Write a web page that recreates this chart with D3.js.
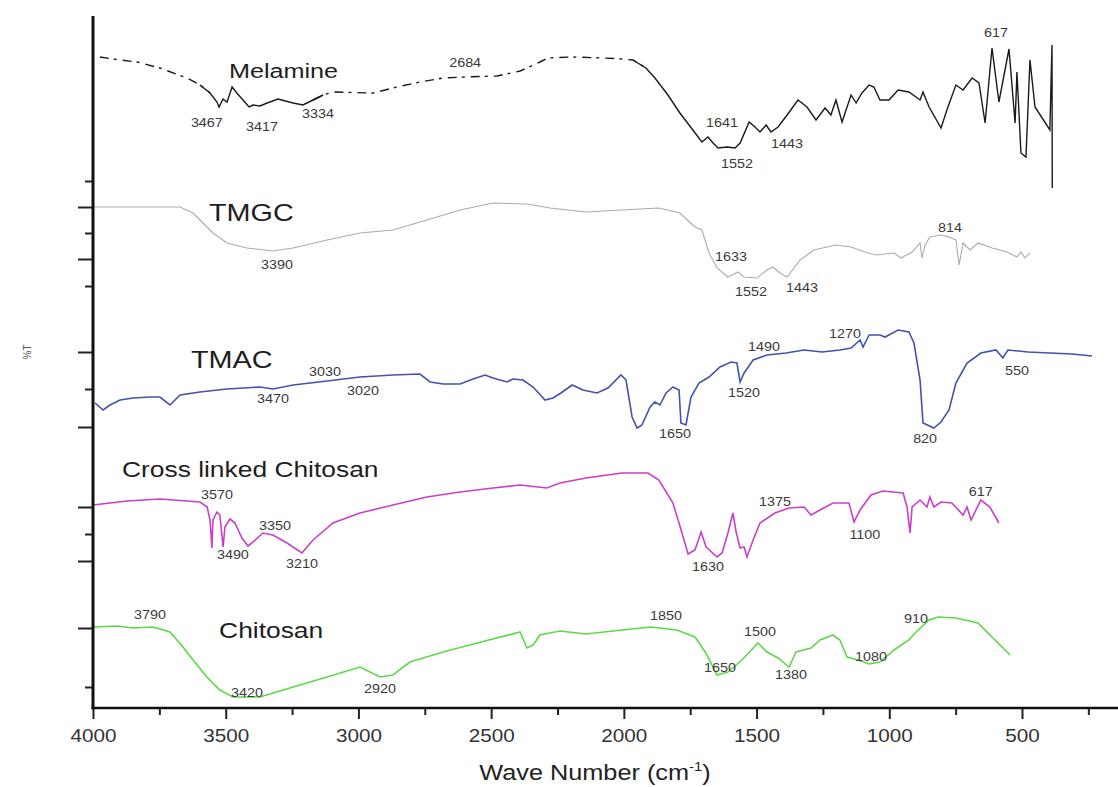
<!DOCTYPE html>
<html>
<head>
<meta charset="utf-8">
<title>FTIR spectra</title>
<script src="https://d3js.org/d3.v7.min.js"></script>
<style>
  body { margin: 0; background: #fff; }
  text { font-family: "Liberation Sans", Arial, sans-serif; }
</style>
</head>
<body>
<svg width="1118" height="787"></svg>
<script>
// ---- data: [wave number (cm-1), %T (stacked, arbitrary offset)] ----
var melamine = [[3974,162.75],[3925,162.25],[3834,161.5],[3748,160],[3646,157.5],[3597,155.75],[3559,153.75],[3533,151.5],[3525,150.25],[3510,152.25],[3495,151.5],[3476,155.25],[3458,153.75],[3435,152],[3412,150.25],[3397,150.75],[3371,150.5],[3344,151.25],[3303,152.25],[3246,151.25],[3209,150.75],[3171,152],[3133,153.25],[3096,154],[2945,153.75],[2855,155.25],[2768,156.5],[2681,157.5],[2598,157.75],[2478,158],[2391,159.25],[2316,161.5],[2286,162.5],[2195,162.75],[2075,162.5],[2007,162.25],[1966,162],[1917,160],[1883,157.5],[1834,153.25],[1789,148.75],[1740,144.5],[1706,141.5],[1683,142.75],[1664,141.25],[1645,140],[1611,140.25],[1581,140],[1562,141.25],[1528,146.5],[1506,145.25],[1487,144],[1464,145.75],[1446,144],[1419,145.25],[1385,148.25],[1344,152],[1310,150.25],[1276,147],[1242,150],[1220,148.25],[1201,152],[1178,146.5],[1144,153.25],[1125,151.25],[1103,153.75],[1076,155.75],[1058,155.25],[1035,152],[1001,152],[967,154.5],[926,154],[884,152],[873,154],[850,150.25],[805,145],[783,149.5],[749,155.75],[722,154.5],[688,157.5],[662,156.25],[639,146.25],[613,165],[587,151.5],[549,164.75],[526,146.25],[519,159],[504,138.75],[485,137.75],[470,162],[451,150.25],[395,144.5],[387,165.75],[386,130]];
// wave number ranges where the melamine trace is broken/dashed
var melamineDashed = [[4000,3597],[3133,1966]];

var tmgc = [[4000,125.25],[3672,125.25],[3623,123.75],[3586,121.25],[3548,118.75],[3495,116.25],[3420,115],[3322,114.25],[3246,115],[3118,117],[2994,118.75],[2870,119.5],[2742,122],[2617,124.5],[2493,126.25],[2365,126],[2278,125],[2143,124],[2007,124.5],[1868,125],[1789,123.75],[1732,120.25],[1706,119.5],[1679,113.75],[1649,110],[1608,107.75],[1570,109],[1547,107.75],[1498,107.5],[1461,109.5],[1438,110.25],[1412,108.75],[1385,107.75],[1336,112],[1284,114.5],[1201,115.75],[1144,115.25],[1092,114],[1050,113.25],[982,113.75],[956,112.5],[914,114],[884,116.25],[877,112.5],[865,115.75],[847,117.75],[805,118.25],[775,117.75],[749,117],[737,110.75],[722,116.25],[696,114.5],[666,116.25],[613,115],[557,114],[519,112.75],[504,114],[489,112.5],[470,113.75]];

var tmac = [[3992,76.25],[3962,74.5],[3936,75.75],[3898,77],[3849,77.5],[3785,77.75],[3748,77.75],[3710,75.75],[3672,78.25],[3597,79],[3495,79.75],[3371,80.25],[3322,79.75],[3246,80.75],[3118,81.75],[2994,82.75],[2870,83.25],[2768,83.5],[2730,81.5],[2681,81],[2617,81],[2568,82.25],[2523,83.25],[2493,82.5],[2440,81.5],[2418,82.25],[2380,82],[2342,80.25],[2297,77],[2267,77.5],[2237,78.75],[2195,80.75],[2154,79.5],[2101,78.75],[2060,80],[2011,83.25],[1992,82],[1969,72.75],[1950,70],[1932,70.75],[1901,75.25],[1883,76.5],[1864,75.75],[1841,78.75],[1815,80.25],[1792,79.5],[1785,71.25],[1766,70.75],[1747,77.75],[1717,81.25],[1679,82.75],[1638,85.25],[1596,86.5],[1574,86.25],[1562,81.5],[1547,83.75],[1513,87],[1461,88.25],[1389,88.75],[1321,89.5],[1253,89],[1186,89.5],[1144,90],[1110,92],[1099,90.25],[1076,93.25],[1035,93.25],[1016,92.75],[967,94.5],[926,94],[907,91.25],[884,82],[873,71.25],[832,70],[805,71.5],[775,74.5],[749,81.25],[707,86.25],[655,88.75],[598,89.5],[572,87.5],[553,89.5],[477,89],[395,88.75],[312,88.5],[236,88]];

var crossChitosan = [[4000,50.75],[3872,51.75],[3748,52.25],[3597,51.5],[3570,50.25],[3559,47],[3552,40],[3548,47],[3533,49],[3522,48.25],[3510,40.25],[3503,45.25],[3484,47.25],[3465,46.25],[3439,42.5],[3416,40.5],[3397,41.5],[3360,43.75],[3322,43.25],[3269,41.25],[3213,38.75],[3171,42],[3096,46.25],[2994,48.75],[2870,50.75],[2742,52.75],[2617,54],[2493,55],[2391,55.75],[2290,55],[2241,56.25],[2143,57.5],[2007,58.75],[1909,58.75],[1868,57],[1815,51.25],[1781,43.75],[1758,38.5],[1732,39.5],[1709,44],[1690,40.25],[1649,37.75],[1630,38.75],[1608,43.75],[1589,48.75],[1577,44],[1562,40],[1547,40.25],[1536,37.75],[1513,42],[1487,46.25],[1431,48.75],[1378,50],[1321,50.25],[1295,48.25],[1261,49.5],[1212,51.25],[1152,51.25],[1133,46.5],[1110,49.5],[1069,53.25],[1024,54.25],[948,53.75],[933,50.25],[922,43.75],[914,50.25],[884,52],[858,50.25],[847,52.75],[832,50.25],[805,51.5],[764,51.25],[722,48.25],[707,50.25],[692,47],[655,52],[621,50.25],[587,46.25]];

var chitosan = [[4000,20.25],[3910,20.5],[3849,20],[3774,20.25],[3710,19],[3661,15.25],[3623,12],[3571,7.75],[3522,4.5],[3473,2.75],[3371,2.75],[3246,5.25],[3118,7.75],[2994,10.25],[2919,7.75],[2870,8.25],[2806,11.5],[2681,14],[2553,16.25],[2391,19],[2365,15],[2342,15.75],[2316,18.25],[2241,19.25],[2143,18.5],[2007,19.5],[1898,20.25],[1800,19.5],[1732,17.75],[1691,13.75],[1649,8.25],[1608,9],[1555,12],[1495,16.25],[1461,14],[1419,12.5],[1378,10.25],[1351,14],[1295,15],[1261,17],[1212,18.25],[1186,17],[1159,12.75],[1118,12],[1076,11],[1035,11.5],[982,14.5],[926,17],[899,19],[850,22],[816,22.75],[749,22.5],[666,21.25],[613,17.75],[545,13.25]];

// ---- annotations ----
// series names: [text, left wave number, %T, font size]
var names = [["Melamine",3488,159.25,21],["TMGC",3563,123.75,24],["TMAC",3631,87,24],["Cross linked Chitosan",3891,59.75,22],["Chitosan",3525,19.5,22]];
// peak labels: [text, wave number, %T]
var peakLabels = [
  ["3467",3571,146.25],["3417",3363,145.25],["3334",3152,148.5],["2684",2598,161.25],["1641",1630,146.25],["1552",1574,136],["1443",1385,141],["617",598,168.75],
  ["3390",3307,110.75],["1633",1596,112.75],["1552",1521,104],["1443",1329,105],["814",771,120],
  ["3030",3126,84],["3470",3322,77.25],["3020",2983,79.25],["1490",1472,90.25],["1270",1167,93.5],["1520",1547,78.75],["1650",1807,68.5],["820",865,67.25],["550",519,84.25],
  ["3570",3533,53.25],["3490",3473,38.25],["3350",3314,45.5],["3210",3213,36],["1375",1431,51.5],["1630",1683,35.25],["1100",1092,43.25],["617",655,54],
  ["3790",3785,23.25],["3420",3420,3.75],["2920",2919,4.75],["1850",1841,23],["1650",1638,10],["1500",1487,19],["1380",1370,8.25],["1080",1069,12.75],["910",899,22.25]
];

// ---- axes ticks ----
var xMajor = [4000,3500,3000,2500,2000,1500,1000,500];
var xMinor = [3750,3250,2750,2250,1750,1250,750,250];
var yMajor = [125.25,112.25,89,70.25,50.25,36.75,20];
var yMinor = [131.75,118.75,105.5,79.75,43.5,5.25];

var svg = d3.select("svg");

var x = d3.scaleLinear().domain([4000, 500]).range([93, 1022]);
var y = d3.scaleLinear().domain([0, 173]).range([708, 16]);

var line = d3.line()
    .x(function(d) { return x(d[0]); })
    .y(function(d) { return y(d[1]); });

function inRanges(w, ranges) {
  return ranges.some(function(r) { return w <= r[0] && w >= r[1]; });
}

// split melamine into dashed / solid runs
function runs(data, ranges) {
  var out = [], cur = null;
  data.forEach(function(d, i) {
    var dash = inRanges(d[0], ranges);
    if (cur === null || dash !== cur.dash) {
      if (cur !== null) { cur.pts.push(d); out.push(cur); }
      cur = { dash: dash, pts: i > 0 ? [data[i - 1], d] : [d] };
    } else {
      cur.pts.push(d);
    }
  });
  out.push(cur);
  return out;
}

runs(melamine, melamineDashed).forEach(function(r) {
  svg.append("path")
      .datum(r.pts)
      .attr("fill", "none")
      .attr("stroke", "#1a1a1a")
      .attr("stroke-width", 1.4)
      .attr("stroke-dasharray", r.dash ? "9,5,3,6" : null)
      .attr("d", line);
});

svg.append("path").datum(tmgc)
    .attr("fill", "none").attr("stroke", "#ababab").attr("stroke-width", 1.1)
    .attr("d", line);

svg.append("path").datum(tmac)
    .attr("fill", "none").attr("stroke", "#4352ad").attr("stroke-width", 1.6)
    .attr("d", line);

svg.append("path").datum(crossChitosan)
    .attr("fill", "none").attr("stroke", "#c93fc9").attr("stroke-width", 1.6)
    .attr("d", line);

svg.append("path").datum(chitosan)
    .attr("fill", "none").attr("stroke", "#5fd64c").attr("stroke-width", 1.6)
    .attr("d", line);

// series names (the figure's lettering is slightly wide)
svg.selectAll(".name")
  .data(names)
  .enter().append("text")
    .attr("class", "name")
    .attr("transform", function(d) { return "translate(" + x(d[1]) + "," + y(d[2]) + ") scale(1.2,1)"; })
    .attr("dominant-baseline", "central")
    .attr("font-size", function(d) { return d[3]; })
    .attr("fill", "#1e1e1e")
    .text(function(d) { return d[0]; });

// peak labels
svg.selectAll(".peak")
  .data(peakLabels)
  .enter().append("text")
    .attr("class", "peak")
    .attr("transform", function(d) { return "translate(" + x(d[1]) + "," + y(d[2]) + ") scale(1.15,1)"; })
    .attr("text-anchor", "middle")
    .attr("dominant-baseline", "central")
    .attr("font-size", 12.5)
    .attr("fill", "#3a3a3a")
    .text(function(d) { return d[0]; });

// x axis
var gx = svg.append("g").attr("transform", "translate(0,708)");
gx.call(d3.axisBottom(x).tickValues(xMajor).tickSize(11).tickPadding(10).tickFormat(d3.format("d")));
gx.select(".domain").remove();
gx.selectAll("line").attr("stroke", "#222").attr("stroke-width", 2);
gx.selectAll("text").attr("font-size", 18).attr("fill", "#333")
    .attr("transform", "scale(1.15,1)")
    .style("font-family", "'Liberation Sans', Arial, sans-serif");

var gxm = svg.append("g").attr("transform", "translate(0,708)");
gxm.call(d3.axisBottom(x).tickValues(xMinor).tickSize(7).tickFormat(""));
gxm.select(".domain").remove();
gxm.selectAll("line").attr("stroke", "#222").attr("stroke-width", 2);

svg.append("line")
    .attr("x1", x(4000) - 1.5).attr("x2", 1118)
    .attr("y1", 708).attr("y2", 708)
    .attr("stroke", "#111").attr("stroke-width", 2.6);

// y axis (no labels, only ticks)
var gy = svg.append("g").attr("transform", "translate(93,0)");
gy.call(d3.axisLeft(y).tickValues(yMajor).tickSize(15).tickFormat(""));
gy.select(".domain").remove();
gy.selectAll("line").attr("stroke", "#222").attr("stroke-width", 2);

var gym = svg.append("g").attr("transform", "translate(93,0)");
gym.call(d3.axisLeft(y).tickValues(yMinor).tickSize(8).tickFormat(""));
gym.select(".domain").remove();
gym.selectAll("line").attr("stroke", "#222").attr("stroke-width", 2);

svg.append("line")
    .attr("x1", 93).attr("x2", 93)
    .attr("y1", y(173)).attr("y2", 709.3)
    .attr("stroke", "#111").attr("stroke-width", 3);

// axis titles
var title = svg.append("text")
    .attr("transform", "translate(595,780) scale(1.15,1)")
    .attr("text-anchor", "middle")
    .attr("font-size", 22)
    .attr("fill", "#222");
title.append("tspan").text("Wave Number (cm");
title.append("tspan").attr("dy", -9).attr("font-size", 13).text("-1");
title.append("tspan").attr("dy", 9).text(")");

svg.append("text")
    .attr("transform", "translate(31,352) rotate(-90)")
    .attr("text-anchor", "middle")
    .attr("font-size", 10)
    .attr("fill", "#555")
    .text("%T");
</script>
</body>
</html>
